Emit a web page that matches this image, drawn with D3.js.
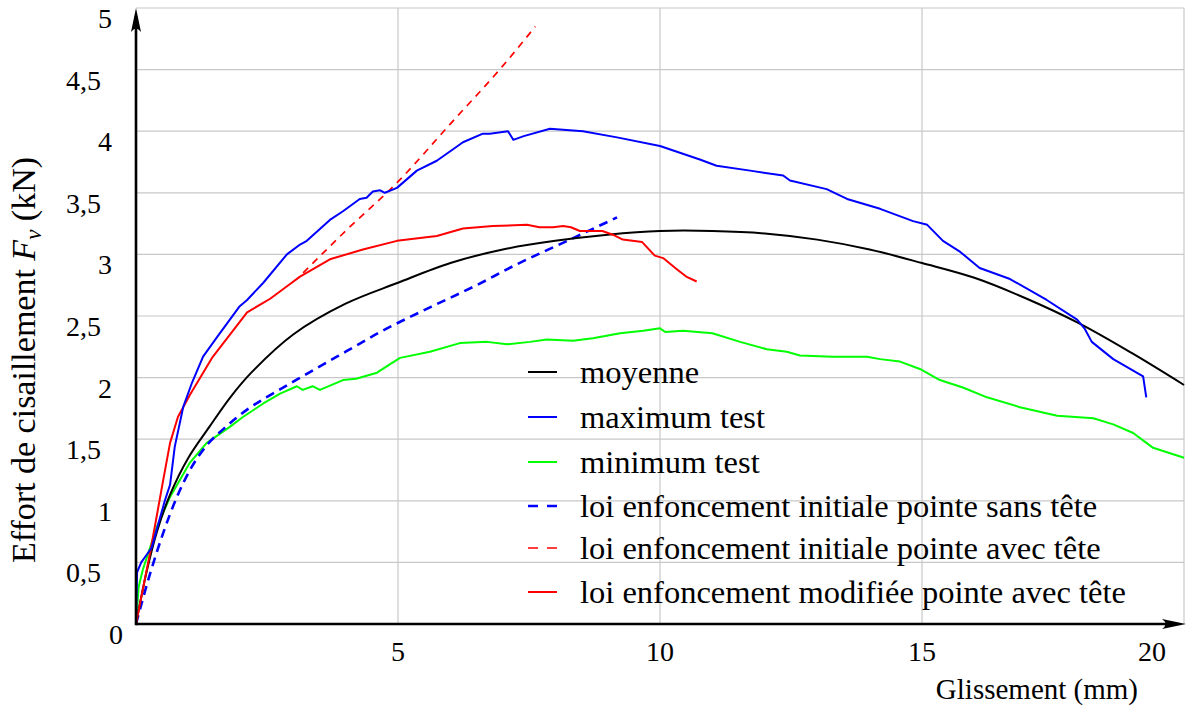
<!DOCTYPE html>
<html>
<head>
<meta charset="utf-8">
<script src="https://cdn.jsdelivr.net/npm/d3@7"></script>
<style>
  html, body { margin: 0; padding: 0; background: #fff; }
  svg { display: block; }
  text { font-family: "Liberation Serif", "DejaVu Serif", serif; fill: #000; }
</style>
</head>
<body>
<svg id="chart" width="1186" height="713"></svg>
<script>
// ---- data ----
const xTickValues = [5, 10, 15, 20];
const xTickLabels = ["5", "10", "15", "20"];
const yTickValues = [0, 0.5, 1, 1.5, 2, 2.5, 3, 3.5, 4, 4.5, 5];
const yTickLabels = ["0", "0,5", "1", "1,5", "2", "2,5", "3", "3,5", "4", "4,5", "5"];
const xTitle = "Glissement (mm)";

const seriesNames = [
  "moyenne",
  "maximum test",
  "minimum test",
  "loi enfoncement initiale pointe sans tête",
  "loi enfoncement initiale pointe avec tête",
  "loi enfoncement modifiée pointe avec tête"
];

const moyenneX = [0,0.2,0.4,0.65,1.0,1.4,1.8,2.2,3.0,4.0,5.0,6.0,7.0,8.0,9.0,10.0,11.0,12.0,13.0,14.0,15.0,16.0,17.0,18.0,19.0,20.0];
const moyenneY = [0,0.42,0.75,1.05,1.35,1.6,1.84,2.04,2.35,2.6,2.77,2.93,3.04,3.11,3.16,3.19,3.19,3.17,3.12,3.04,2.93,2.81,2.64,2.44,2.2,1.94];

const maxX = [0,0.02,0.1,0.2,0.3,0.45,0.55,0.65,0.74,0.9,1.07,1.28,1.55,1.98,2.12,2.43,2.88,3.13,3.26,3.7,3.95,4.27,4.4,4.52,4.66,4.75,4.98,5.36,5.74,6.24,6.62,6.75,7.1,7.2,7.4,7.9,8.53,9.18,10.0,10.76,11.08,11.72,12.35,12.48,13.18,13.57,14.2,14.83,15.1,15.4,15.73,16.1,16.68,17.38,17.96,18.1,18.24,18.65,19.22,19.28];
const maxY = [0,0.42,0.5,0.56,0.62,0.85,1.0,1.13,1.44,1.76,1.96,2.17,2.33,2.58,2.63,2.77,3.0,3.08,3.11,3.28,3.35,3.45,3.46,3.51,3.52,3.5,3.54,3.68,3.76,3.91,3.98,3.98,4.0,3.93,3.96,4.02,4.0,3.95,3.88,3.77,3.72,3.68,3.64,3.6,3.53,3.45,3.37,3.27,3.24,3.11,3.02,2.89,2.8,2.63,2.47,2.4,2.29,2.15,2.01,1.84];

const minX = [0,0.05,0.13,0.4,0.65,1.03,1.35,1.79,2.04,2.43,2.75,3.07,3.18,3.37,3.51,3.95,4.2,4.6,4.85,5.04,5.61,6.18,6.7,7.08,7.52,7.84,8.34,8.72,9.24,9.68,10.0,10.1,10.44,11.0,11.53,12.04,12.42,12.67,13.3,13.95,14.2,14.58,14.96,15.34,15.78,16.24,16.87,17.58,18.27,18.65,19.03,19.41,20.0];
const minY = [0,0.3,0.44,0.79,1.03,1.31,1.47,1.6,1.68,1.79,1.87,1.93,1.9,1.93,1.9,1.98,1.99,2.04,2.11,2.16,2.21,2.28,2.29,2.27,2.29,2.31,2.3,2.32,2.36,2.38,2.4,2.37,2.38,2.36,2.29,2.23,2.21,2.18,2.17,2.17,2.15,2.13,2.07,1.98,1.92,1.84,1.76,1.69,1.67,1.62,1.55,1.43,1.35];

const sansTeteX = [0,0.27,0.52,0.78,1.03,1.35,1.66,2.12,2.61,3.26,4.0,4.66,5.61,6.5,7.27,8.23,9.18];
const sansTeteY = [0,0.41,0.74,1.03,1.25,1.45,1.58,1.74,1.87,2.03,2.21,2.37,2.57,2.75,2.92,3.11,3.3];

const avecTeteX = [3.19,4.0,5.0,6.0,7.0,7.62];
const avecTeteY = [2.85,3.19,3.59,4.06,4.53,4.85];

const modifX = [0,0.27,0.52,0.65,0.8,1.03,1.45,2.12,2.56,2.94,3.13,3.7,4.33,4.98,5.74,6.24,6.81,7.46,7.7,7.96,8.15,8.3,8.47,8.9,9.1,9.29,9.66,9.9,10.06,10.32,10.5,10.7];
const modifY = [0,0.58,1.17,1.47,1.68,1.86,2.16,2.53,2.64,2.76,2.82,2.96,3.04,3.11,3.15,3.21,3.23,3.24,3.22,3.22,3.23,3.22,3.19,3.19,3.16,3.12,3.1,2.99,2.97,2.88,2.82,2.78];

// ---- setup ----
const svg = d3.select("#chart");
const x = d3.scaleLinear().domain([0, 20]).range([136, 1184]);
const y = d3.scaleLinear().domain([0, 5]).range([624, 8]);

const zip = (xs, ys) => xs.map((v, i) => [v, ys[i]]);

// grid
const grid = svg.append("g");
grid.selectAll("line.v").data(xTickValues).enter().append("line")
  .attr("x1", d => x(d)).attr("x2", d => x(d))
  .attr("y1", y(0)).attr("y2", y(5))
  .attr("stroke", "#c8c8c8").attr("stroke-width", 1.2);
grid.selectAll("line.h").data(yTickValues.filter(d => d > 0)).enter().append("line")
  .attr("x1", x(0)).attr("x2", x(20))
  .attr("y1", d => y(d)).attr("y2", d => y(d))
  .attr("stroke", "#c8c8c8").attr("stroke-width", 1.2);

// series
const styles = [
  { color: "#000000", width: 2, dash: null, curve: d3.curveCatmullRom },
  { color: "#0000ff", width: 2, dash: null, curve: d3.curveLinear },
  { color: "#00ff00", width: 2, dash: null, curve: d3.curveLinear },
  { color: "#0000ff", width: 2.6, dash: "9,6", curve: d3.curveMonotoneX },
  { color: "#ff0000", width: 1.7, dash: "7,6", curve: d3.curveMonotoneX },
  { color: "#ff0000", width: 2, dash: null, curve: d3.curveLinear }
];
const seriesData = [
  zip(moyenneX, moyenneY),
  zip(maxX, maxY),
  zip(minX, minY),
  zip(sansTeteX, sansTeteY),
  zip(avecTeteX, avecTeteY),
  zip(modifX, modifY)
];
const drawOrder = [2, 3, 0, 4, 5, 1];
drawOrder.forEach(i => {
  const st = styles[i];
  const line = d3.line().x(d => x(d[0])).y(d => y(d[1])).curve(st.curve);
  svg.append("path").datum(seriesData[i])
    .attr("d", line)
    .attr("fill", "none")
    .attr("stroke", st.color)
    .attr("stroke-width", st.width)
    .attr("stroke-linejoin", "round")
    .attr("stroke-dasharray", st.dash);
});

// axes lines with arrows
const axes = svg.append("g");
axes.append("line").attr("x1", x(0)).attr("x2", x(20) - 8).attr("y1", y(0)).attr("y2", y(0))
  .attr("stroke", "#000").attr("stroke-width", 2.6);
axes.append("line").attr("x1", x(0)).attr("x2", x(0)).attr("y1", y(0) + 1.3).attr("y2", y(5) + 8)
  .attr("stroke", "#000").attr("stroke-width", 2.6);
const tipX = x(20) + 2, tipY = y(0);
axes.append("path")
  .attr("d", `M${tipX},${tipY} L${tipX - 24},${tipY - 5} Q${tipX - 17},${tipY} ${tipX - 24},${tipY + 5} Z`)
  .attr("fill", "#000");
const tX = x(0), tY = y(5);
axes.append("path")
  .attr("d", `M${tX},${tY} L${tX - 5},${tY + 24} Q${tX},${tY + 17} ${tX + 5},${tY + 24} Z`)
  .attr("fill", "#000");

// tick labels
const fsTick = 28;
svg.selectAll("text.xt").data(xTickValues).enter().append("text")
  .attr("x", (d, i) => i === xTickValues.length - 1 ? x(d) - 18 : x(d))
  .attr("y", 661)
  .attr("text-anchor", (d, i) => i === xTickValues.length - 1 ? "end" : "middle")
  .attr("font-size", fsTick)
  .text((d, i) => xTickLabels[i]);

svg.selectAll("text.yt").data(yTickValues).enter().append("text")
  .attr("x", (d, i) => d === 0 ? 123 : (yTickLabels[i].includes(",") ? 101 : 112))
  .attr("y", d => y(d) + 20)
  .attr("text-anchor", "end")
  .attr("font-size", fsTick)
  .text((d, i) => yTickLabels[i]);

// axis titles
svg.append("text")
  .attr("x", 1138).attr("y", 699)
  .attr("text-anchor", "end")
  .attr("font-size", 29)
  .text(xTitle);

const yt = svg.append("text")
  .attr("transform", "translate(35,360) rotate(-90)")
  .attr("text-anchor", "middle")
  .attr("font-size", 34);
yt.append("tspan").text("Effort de cisaillement ");
yt.append("tspan").attr("font-style", "italic").text("F");
yt.append("tspan").attr("font-style", "italic").attr("font-size", 23).attr("dy", 6).text("v");
yt.append("tspan").attr("dy", -6).text(" (kN)");

// legend
const legendBase = [383, 428, 473, 517, 559, 603];
const lg = svg.append("g");
seriesNames.forEach((name, i) => {
  const st = styles[i];
  const by = legendBase[i];
  lg.append("line")
    .attr("x1", 528).attr("x2", 557)
    .attr("y1", by - 11).attr("y2", by - 11)
    .attr("stroke", st.color)
    .attr("stroke-width", st.width)
    .attr("stroke-dasharray", st.dash ? "10,9" : null);
  lg.append("text")
    .attr("x", 580).attr("y", by)
    .attr("font-size", 32.5)
    .text(name);
});
</script>
</body>
</html>
